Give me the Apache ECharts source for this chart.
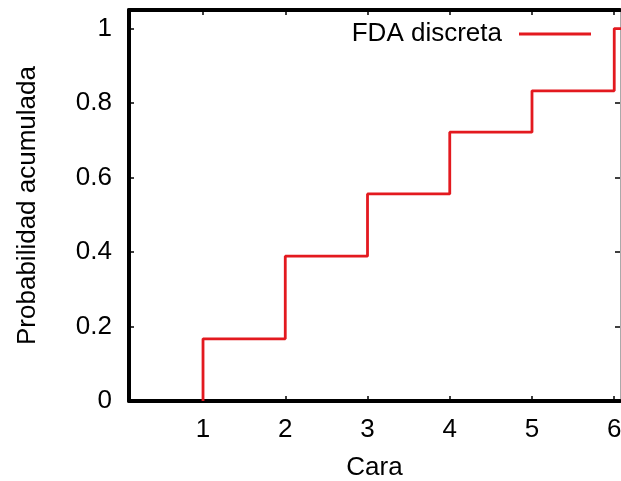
<!DOCTYPE html>
<html>
<head>
<meta charset="utf-8">
<script src="https://cdn.jsdelivr.net/npm/echarts@6/dist/echarts.min.js"></script>
<style>
html,body{margin:0;padding:0;background:#fff;}
#main{width:621px;height:481px;}
</style>
</head>
<body>
<div id="main"></div>
<script>
// Data
var caras = [1, 2, 3, 4, 5, 6];
var fdaDiscreta = [0.167, 0.389, 0.556, 0.722, 0.833, 1.0];
var xTicks = [1, 2, 3, 4, 5, 6];
var yTicks = [0, 0.2, 0.4, 0.6, 0.8, 1];
var serieNombre = 'FDA discreta';

// Step data built from arrays
var stepData = [[caras[0], 0]];
caras.forEach(function (c, i) { stepData.push([c, fdaDiscreta[i]]); });
stepData.push([caras[caras.length - 1] + 1, fdaDiscreta[fdaDiscreta.length - 1]]);

var FONT = 'Liberation Sans';
var RED = '#e3191f';
var chart = echarts.init(document.getElementById('main'), null, {renderer: 'canvas'});

var tickStyle = {show: true, inside: true, length: 5, lineStyle: {color: '#000', width: 1.5}};

chart.setOption({
  animation: false,
  backgroundColor: '#fff',
  grid: {left: 129, right: 1, top: 10, bottom: 80, containLabel: false, outerBoundsMode: 'none'},
  legend: {
    data: [{name: serieNombre, icon: 'rect', itemStyle: {color: RED}}],
    right: 25,
    top: 16,
    align: 'right',
    itemWidth: 72,
    itemHeight: 2.8,
    textStyle: {fontFamily: FONT, fontSize: 26, color: '#000', padding: [0, 12, 0, 0]}
  },
  xAxis: [{
    type: 'value',
    position: 'bottom',
    min: 0.1,
    max: 6.07,
    z: 3,
    axisLine: {show: true, onZero: false, lineStyle: {color: '#000', width: 4}},
    axisTick: Object.assign({customValues: xTicks}, tickStyle),
    axisLabel: {customValues: xTicks, fontFamily: FONT, fontSize: 26, color: '#000', margin: 16, hideOverlap: false},
    splitLine: {show: false},
    name: 'Cara',
    nameLocation: 'middle',
    nameGap: 54,
    nameTextStyle: {fontFamily: FONT, fontSize: 26, color: '#000'}
  }, {
    type: 'value',
    position: 'top',
    min: 0.1,
    max: 6.07,
    z: 3,
    axisLine: {show: true, onZero: false, lineStyle: {color: '#000', width: 4}},
    axisTick: Object.assign({customValues: xTicks}, tickStyle),
    axisLabel: {show: false},
    splitLine: {show: false}
  }],
  yAxis: [{
    type: 'value',
    position: 'left',
    min: 0,
    max: 1.05,
    z: 3,
    axisLine: {show: true, onZero: false, lineStyle: {color: '#000', width: 4}},
    axisTick: Object.assign({customValues: yTicks}, tickStyle),
    axisLabel: {customValues: yTicks, fontFamily: FONT, fontSize: 26, color: '#000', margin: 17,
      formatter: function (v) { return String(Math.round(v * 10) / 10); }},
    splitLine: {show: false},
    name: 'Probabilidad acumulada',
    nameLocation: 'middle',
    nameGap: 88,
    nameTextStyle: {fontFamily: FONT, fontSize: 26, color: '#000'}
  }, {
    type: 'value',
    position: 'right',
    min: 0,
    max: 1.05,
    z: 3,
    axisLine: {show: true, onZero: false, lineStyle: {color: '#aaa', width: 1}},
    axisTick: Object.assign({customValues: yTicks}, tickStyle),
    axisLabel: {show: false},
    splitLine: {show: false}
  }],
  series: [{
    name: serieNombre,
    type: 'line',
    step: 'end',
    xAxisIndex: 0,
    yAxisIndex: 0,
    symbol: 'none',
    data: stepData,
    lineStyle: {color: RED, width: 2.8},
    itemStyle: {color: RED},
    clip: true
  }]
});
</script>
</body>
</html>
